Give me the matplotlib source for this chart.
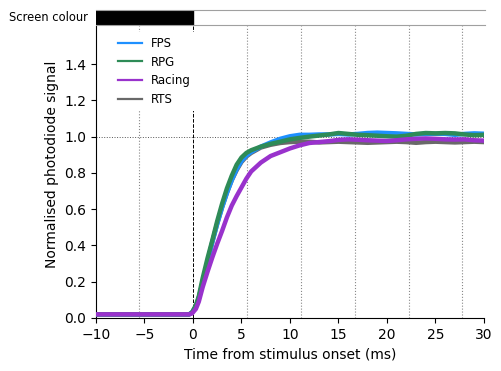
import matplotlib
matplotlib.use("Agg")
import matplotlib.pyplot as plt
from matplotlib.lines import Line2D

# time axis (ms) and normalised photodiode traces
time_ms = [-10, -0.4, -0.1, 0.3, 0.6, 1.0, 1.5, 2.0, 2.5, 3.0, 3.5, 4.0, 4.5, 5.0, 5.5, 6.0,
           7, 8, 9, 10, 11, 12, 13, 14, 15, 16, 17, 18, 19, 20, 21, 22, 23, 24, 25, 26, 27, 28, 29, 30]

fps = [0.02, 0.02, 0.03, 0.065, 0.11, 0.20, 0.31, 0.42, 0.52, 0.61, 0.69, 0.76, 0.82, 0.865, 0.895, 0.915,
       0.945, 0.968, 0.988, 1.002, 1.01, 1.01, 1.012, 1.012, 1.015, 1.012, 1.015, 1.02, 1.022, 1.02,
       1.018, 1.015, 1.012, 1.015, 1.016, 1.015, 1.01, 1.015, 1.018, 1.016]
rpg = [0.02, 0.02, 0.03, 0.07, 0.12, 0.22, 0.33, 0.43, 0.535, 0.63, 0.715, 0.785, 0.845, 0.885, 0.91, 0.925,
       0.945, 0.96, 0.972, 0.985, 0.993, 1.0, 1.006, 1.012, 1.02, 1.015, 1.01, 1.008, 1.005, 1.002,
       1.0, 1.005, 1.015, 1.02, 1.018, 1.02, 1.018, 1.012, 1.008, 1.01]
racing = [0.02, 0.02, 0.025, 0.05, 0.09, 0.17, 0.255, 0.335, 0.41, 0.48, 0.555, 0.62, 0.672, 0.72, 0.768, 0.808,
          0.857, 0.893, 0.914, 0.935, 0.952, 0.965, 0.97, 0.975, 0.982, 0.985, 0.983, 0.98, 0.978, 0.976,
          0.98, 0.985, 0.988, 0.99, 0.988, 0.985, 0.984, 0.985, 0.98, 0.978]
rts = [0.02, 0.02, 0.03, 0.065, 0.11, 0.20, 0.31, 0.42, 0.52, 0.61, 0.69, 0.76, 0.815, 0.86, 0.89, 0.91,
       0.94, 0.955, 0.965, 0.97, 0.972, 0.972, 0.968, 0.97, 0.972, 0.97, 0.968, 0.966, 0.968, 0.97,
       0.972, 0.97, 0.966, 0.97, 0.972, 0.97, 0.968, 0.97, 0.972, 0.97]

labels = ["FPS", "RPG", "Racing", "RTS"]
colours = {"FPS": "#1e90ff", "RPG": "#2e8b57", "Racing": "#9932cc", "RTS": "#696969"}

# frame boundaries of a 180 Hz display
frame_times = [-5.56, 5.56, 11.11, 16.67, 22.22, 27.78]

fig = plt.figure(figsize=(5.02, 3.71), dpi=100)
ax = fig.add_axes([0.1912, 0.1429, 0.7729, 0.787])
strip = fig.add_axes([0.1912, 0.9326, 0.7749, 0.0404])

for t in frame_times:
    ax.axvline(t, color="#888888", linestyle=":", linewidth=0.8, zorder=0)
ax.axvline(0, color="black", linestyle="--", linewidth=0.7, zorder=0)
ax.axhline(1.0, color="#555555", linestyle=":", linewidth=0.7, zorder=0)

ax.plot(time_ms, rts, color=colours["RTS"], linewidth=3.2, zorder=2)
ax.plot(time_ms, fps, color=colours["FPS"], linewidth=3.2, zorder=3)
ax.plot(time_ms, rpg, color=colours["RPG"], linewidth=3.2, zorder=4)
ax.plot(time_ms, racing, color=colours["Racing"], linewidth=3.2, zorder=5)

ax.set_xlim(-10, 30)
ax.set_ylim(0, 1.61)
ax.set_xticks([-10, -5, 0, 5, 10, 15, 20, 25, 30])
ax.set_yticks([0.0, 0.2, 0.4, 0.6, 0.8, 1.0, 1.2, 1.4])
ax.tick_params(labelsize=10)
ax.set_xlabel("Time from stimulus onset (ms)", fontsize=10)
ax.set_ylabel("Normalised photodiode signal", fontsize=10, y=0.527)
ax.spines["top"].set_visible(False)
ax.spines["right"].set_visible(False)

handles = [Line2D([], [], color=colours[k], linewidth=1.6) for k in labels]
leg = ax.legend(handles, labels, loc="upper left", bbox_to_anchor=(0.03, 1.0), fontsize=8.5,
                frameon=True, framealpha=1.0, fancybox=False)
leg.get_frame().set_edgecolor("none")
leg.set_zorder(10)

# screen colour strip above the trace
strip.axvspan(-10, 0, color="black")
strip.set_xlim(-10, 30)
strip.set_ylim(0, 1)
strip.set_xticks([])
strip.set_yticks([])
for side in ("left", "right"):
    strip.spines[side].set_visible(False)
for side in ("top", "bottom"):
    strip.spines[side].set_color("#a0a0a0")
strip.set_ylabel("Screen colour", rotation=0, ha="right", va="center", fontsize=8.3, labelpad=6)

fig.savefig("out.png", dpi=100)
